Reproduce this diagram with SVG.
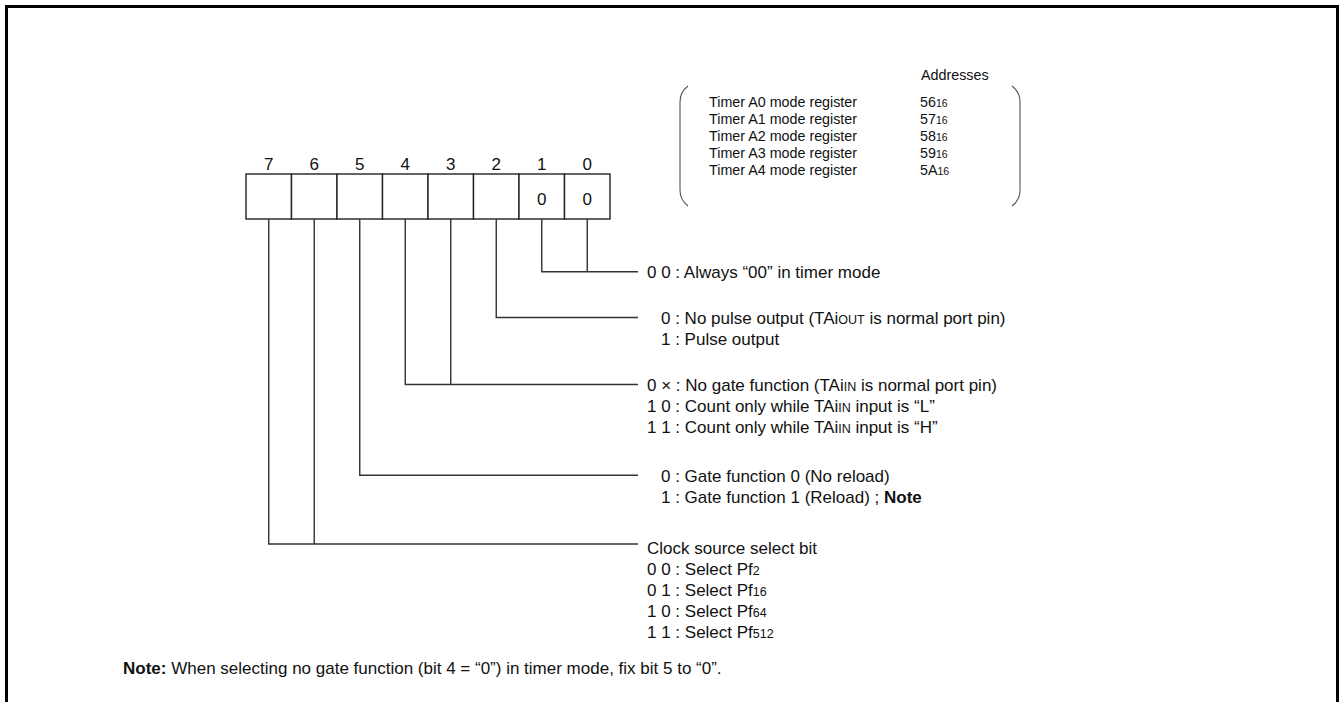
<svg xmlns="http://www.w3.org/2000/svg" width="1340" height="702" viewBox="0 0 1340 702">
<style>
text{font-family:"Liberation Sans",Arial,sans-serif;font-size:17px;fill:#111}
.s{font-size:12.5px}
.b{font-weight:bold}
.t{font-size:14.3px}
.ts{font-size:10.5px}
.c{fill:#fff;stroke:#222;stroke-width:1.4}
.ln{fill:none;stroke:#333;stroke-width:1.4}
.par{fill:none;stroke:#555;stroke-width:1.1}
.m{text-anchor:middle}
</style>
<rect x="0" y="0" width="1340" height="702" fill="#fff"/>
<rect x="6.5" y="6.5" width="1331" height="730" fill="none" stroke="#000" stroke-width="3"/>

<g id="addresses">
<path class="par" d="M688,86 Q680,92 680,102 L680,190 Q680,200 688,206"/>
<path class="par" d="M1012,86 Q1020,92 1020,102 L1020,190 Q1020,200 1012,206"/>
<text class="t" x="921" y="80">Addresses</text>
<text class="t" x="709" y="106.5">Timer A0 mode register</text>
<text class="t" x="709" y="123.5">Timer A1 mode register</text>
<text class="t" x="709" y="140.5">Timer A2 mode register</text>
<text class="t" x="709" y="157.5">Timer A3 mode register</text>
<text class="t" x="709" y="174.5">Timer A4 mode register</text>
<text class="t" x="920" y="106.5">56<tspan class="ts">16</tspan></text>
<text class="t" x="920" y="123.5">57<tspan class="ts">16</tspan></text>
<text class="t" x="920" y="140.5">58<tspan class="ts">16</tspan></text>
<text class="t" x="920" y="157.5">59<tspan class="ts">16</tspan></text>
<text class="t" x="920" y="174.5">5A<tspan class="ts">16</tspan></text>
</g>

<g id="register">
<rect class="c" x="246" y="174" width="45.5" height="45"/>
<rect class="c" x="291.5" y="174" width="45.5" height="45"/>
<rect class="c" x="337" y="174" width="45.5" height="45"/>
<rect class="c" x="382.5" y="174" width="45.5" height="45"/>
<rect class="c" x="428" y="174" width="45.5" height="45"/>
<rect class="c" x="473.5" y="174" width="45.5" height="45"/>
<rect class="c" x="519" y="174" width="45.5" height="45"/>
<rect class="c" x="564.5" y="174" width="45.5" height="45"/>
<text class="m" x="268.75" y="169.5">7</text>
<text class="m" x="314.25" y="169.5">6</text>
<text class="m" x="359.75" y="169.5">5</text>
<text class="m" x="405.25" y="169.5">4</text>
<text class="m" x="450.75" y="169.5">3</text>
<text class="m" x="496.25" y="169.5">2</text>
<text class="m" x="541.75" y="169.5">1</text>
<text class="m" x="587.25" y="169.5">0</text>
<text class="m" x="541.75" y="204.5">0</text>
<text class="m" x="587.25" y="204.5">0</text>
</g>

<g id="connectors">
<path class="ln" d="M541.75,219 V271.7 H638 M587.25,219 V271.7"/>
<path class="ln" d="M496.25,219 V317.5 H638"/>
<path class="ln" d="M405.25,219 V384.5 H638 M450.75,219 V384.5"/>
<path class="ln" d="M359.75,219 V475.3 H638"/>
<path class="ln" d="M268.75,219 V544 H638 M314.25,219 V544"/>
</g>

<g id="bits10">
<text x="647" y="277.5">0 0 : Always “00” in timer mode</text>
</g>
<g id="bit2">
<text x="661" y="324">0 : No pulse output (TAi<tspan class="s">OUT</tspan> is normal port pin)</text>
<text x="661" y="345">1 : Pulse output</text>
</g>
<g id="bits43">
<text x="647" y="390.5">0 × : No gate function (TAi<tspan class="s">IN</tspan> is normal port pin)</text>
<text x="647" y="411.5">1 0 : Count only while TAi<tspan class="s">IN</tspan> input is “L”</text>
<text x="647" y="432.5">1 1 : Count only while TAi<tspan class="s">IN</tspan> input is “H”</text>
</g>
<g id="bit5">
<text x="661" y="481.5">0 : Gate function 0 (No reload)</text>
<text x="661" y="502.5">1 : Gate function 1 (Reload) ; <tspan class="b">Note</tspan></text>
</g>
<g id="bits76">
<text x="647" y="554">Clock source select bit</text>
<text x="647" y="575">0 0 : Select Pf<tspan class="s">2</tspan></text>
<text x="647" y="596">0 1 : Select Pf<tspan class="s">16</tspan></text>
<text x="647" y="617">1 0 : Select Pf<tspan class="s">64</tspan></text>
<text x="647" y="638">1 1 : Select Pf<tspan class="s">512</tspan></text>
</g>
<g id="note">
<text x="123" y="674"><tspan class="b">Note:</tspan> When selecting no gate function (bit 4 = “0”) in timer mode, fix bit 5 to “0”.</text>
</g>
</svg>
